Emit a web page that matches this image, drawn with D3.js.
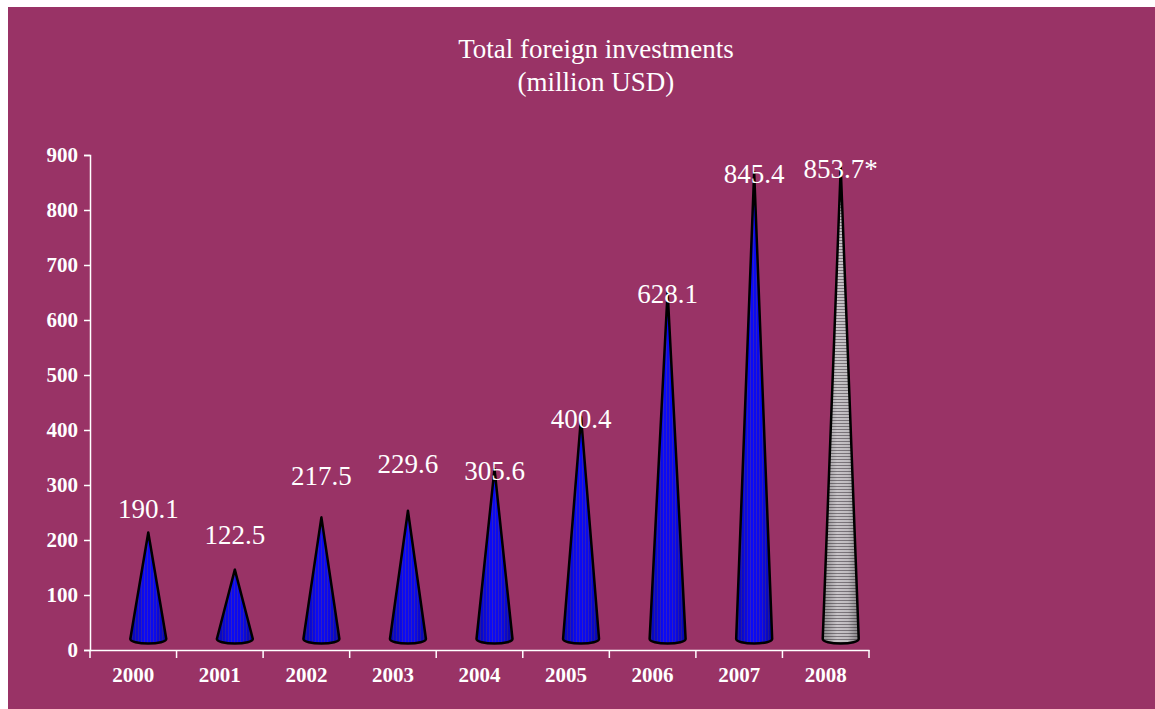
<!DOCTYPE html>
<html>
<head>
<meta charset="utf-8">
<script src="https://cdn.jsdelivr.net/npm/d3@7"></script>
<style>
  html, body { margin: 0; padding: 0; background: #ffffff; }
  svg { display: block; }
</style>
</head>
<body>
<svg id="chart" width="1155" height="709"></svg>
<script>
// ---- data ----
const years = ["2000", "2001", "2002", "2003", "2004", "2005", "2006", "2007", "2008"];
const values = [190.1, 122.5, 217.5, 229.6, 305.6, 400.4, 628.1, 845.4, 853.7];
const valueLabels = ["190.1", "122.5", "217.5", "229.6", "305.6", "400.4", "628.1", "845.4", "853.7*"];
const estimated = [false, false, false, false, false, false, false, false, true];
const yTicks = [0, 100, 200, 300, 400, 500, 600, 700, 800, 900];
const titleLines = ["Total foreign investments", "(million USD)"];

// ---- layout ----
const W = 1155, H = 709;
const plot = { left: 90, right: 869, top: 155, bottom: 650 };
const depth = { dx: 15, dy: -11 };   // 3D depth shift of the cones
const coneR = 18, coneRy = 4.5;
const serif = "'Liberation Serif', 'Times New Roman', serif";
const bg = "#993366";

const svg = d3.select("#chart");
svg.append("rect").attr("x", 8).attr("y", 7).attr("width", W - 8).attr("height", H - 7).attr("fill", bg);

const defs = svg.append("defs");
// blue fine vertical striping
const pb = defs.append("pattern").attr("id", "bluePat").attr("patternUnits", "userSpaceOnUse")
  .attr("width", 3).attr("height", 10);
pb.append("rect").attr("width", 3).attr("height", 10).attr("fill", "#0a0af8");
pb.append("rect").attr("width", 1).attr("height", 10).attr("fill", "#3020c4");
// grey horizontal striping
const pg = defs.append("pattern").attr("id", "greyPat").attr("patternUnits", "userSpaceOnUse")
  .attr("width", 10).attr("height", 3);
pg.append("rect").attr("width", 10).attr("height", 3).attr("fill", "#c8c4c8");
pg.append("rect").attr("width", 10).attr("height", 1).attr("fill", "#7c767c");
// side shading
const sh = defs.append("linearGradient").attr("id", "shade").attr("x1", 0).attr("x2", 1).attr("y1", 0).attr("y2", 0);
sh.append("stop").attr("offset", "0%").attr("stop-color", "#000").attr("stop-opacity", 0.3);
sh.append("stop").attr("offset", "40%").attr("stop-color", "#000").attr("stop-opacity", 0.0);
sh.append("stop").attr("offset", "70%").attr("stop-color", "#000").attr("stop-opacity", 0.05);
sh.append("stop").attr("offset", "100%").attr("stop-color", "#000").attr("stop-opacity", 0.35);

const x = d3.scaleBand().domain(years).range([plot.left, plot.right]).padding(0);
const y = d3.scaleLinear().domain([0, 900]).range([plot.bottom, plot.top]);

// title
svg.append("g").selectAll("text").data(titleLines).join("text")
  .attr("x", 596).attr("y", (d, i) => 58 + i * 33)
  .attr("text-anchor", "middle").attr("fill", "#fff")
  .attr("font-family", serif).attr("font-size", 27)
  .text(d => d);

// y axis
const yAxis = svg.append("g").attr("transform", `translate(${plot.left},0)`)
  .call(d3.axisLeft(y).tickValues(yTicks).tickSize(6).tickPadding(6).tickFormat(d3.format("d")));
yAxis.select(".domain").attr("stroke", "#fff").attr("stroke-width", 1.5);
yAxis.selectAll(".tick line").attr("stroke", "#fff").attr("stroke-width", 1.5);
yAxis.selectAll(".tick text").attr("fill", "#fff").attr("font-family", serif)
  .attr("font-weight", "bold").attr("font-size", 21);

// x axis
const xAxis = svg.append("g").attr("transform", `translate(0,${plot.bottom})`)
  .call(d3.axisBottom(x).tickSize(0).tickPadding(17));
xAxis.select(".domain").attr("stroke", "#fff").attr("stroke-width", 1.5);
xAxis.selectAll(".tick text").attr("fill", "#fff").attr("font-family", serif)
  .attr("font-weight", "bold").attr("font-size", 21);
const bounds = years.map(d => x(d)).concat([x(years[years.length - 1]) + x.bandwidth()]);
xAxis.selectAll("line.bound").data(bounds).join("line").attr("class", "bound")
  .attr("x1", d => d).attr("x2", d => d).attr("y1", 0).attr("y2", 8)
  .attr("stroke", "#fff").attr("stroke-width", 1.5);

// cones
const cones = svg.append("g");
years.forEach((yr, i) => {
  const cx = x(yr) + x.bandwidth() / 2 + depth.dx;
  const by = y(0) + depth.dy;
  const ty = y(values[i]) + depth.dy - 2;
  const p = `M${cx},${ty} L${cx - coneR},${by} A${coneR},${coneRy} 0 0 0 ${cx + coneR},${by} Z`;
  const g = cones.append("g");
  g.append("path").attr("d", p).attr("fill", estimated[i] ? "url(#greyPat)" : "url(#bluePat)");
  g.append("path").attr("d", p).attr("fill", "url(#shade)");
  g.append("path").attr("d", p).attr("fill", "none").attr("stroke", "#000")
    .attr("stroke-width", 2.5).attr("stroke-linejoin", "round");
});

// value labels (first four were lifted higher in the original)
const labelLift = [25, 37, 43, 49, 0, 0, 0, 0, 0];
svg.append("g").selectAll("text").data(values).join("text")
  .attr("x", (d, i) => x(years[i]) + x.bandwidth() / 2 + depth.dx)
  .attr("y", (d, i) => y(d) + depth.dy + 9 - labelLift[i])
  .attr("text-anchor", "middle").attr("fill", "#fff")
  .attr("font-family", serif).attr("font-size", 27)
  .text((d, i) => valueLabels[i]);
</script>
</body>
</html>
